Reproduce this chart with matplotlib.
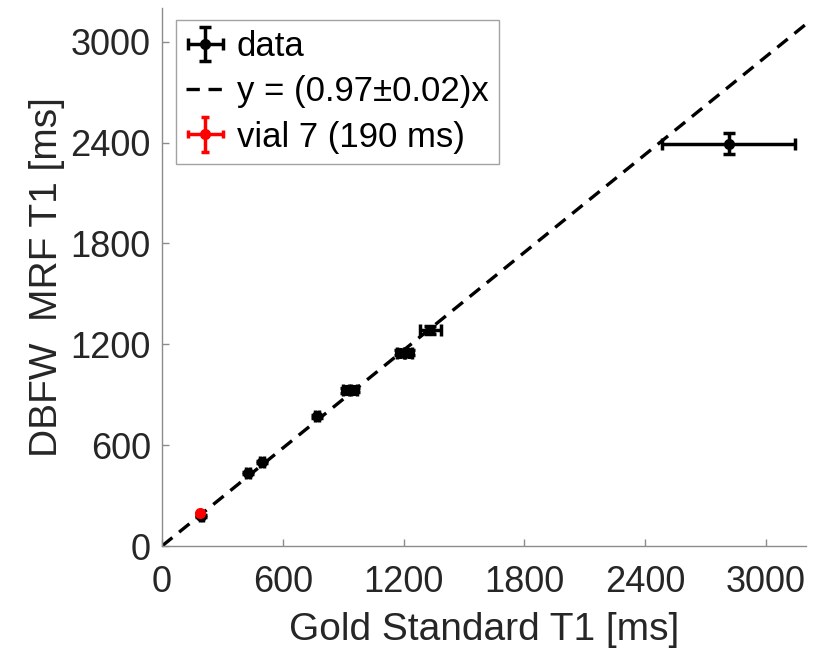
import matplotlib
matplotlib.use("Agg")
import matplotlib.pyplot as plt
import numpy as np

plt.rcParams["font.family"] = ["Liberation Sans", "DejaVu Sans"]

# phantom vials: gold standard T1 vs DBFW MRF T1 (ms)
gold_t1 = [196, 428, 498, 770, 915, 955, 1185, 1225, 1333, 2816]
mrf_t1 = [178, 434, 499, 772, 925, 930, 1150, 1150, 1283, 2394]
gold_err = [8, 10, 10, 12, 15, 15, 18, 18, 52, 330]
mrf_err = [8, 8, 8, 10, 12, 12, 15, 15, 25, 60]

# vial 7 highlighted
vial7_gold = [191]
vial7_mrf = [194]
vial7_gold_err = [6]
vial7_mrf_err = [6]

slope = 0.97
slope_err = 0.02
axis_max = 3200
ticks = [0, 600, 1200, 1800, 2400, 3000]

text_color = "#262626"
axis_color = "#8c8c8c"

fig = plt.figure(figsize=(8.18, 6.56), dpi=100)
ax = fig.add_axes([162 / 818, 1 - 546 / 656, 644 / 818, 538 / 656])

h_data = ax.errorbar(gold_t1, mrf_t1, xerr=gold_err, yerr=mrf_err, fmt="o",
                     color="black", markersize=7, elinewidth=2.5, capsize=4,
                     capthick=2.5, zorder=3)
fit_x = np.array([0, axis_max])
(h_fit,) = ax.plot(fit_x, slope * fit_x, "--", color="black", linewidth=2.4,
                   dashes=(4, 2.6), zorder=2)
h_vial = ax.errorbar(vial7_gold, vial7_mrf, xerr=vial7_gold_err,
                     yerr=vial7_mrf_err, fmt="o", color="red", markersize=7,
                     elinewidth=2.5, capsize=3, capthick=2.5, zorder=4)

ax.set_xlim(0, axis_max)
ax.set_ylim(0, axis_max)
ax.set_xticks(ticks)
ax.set_yticks(ticks)
ax.tick_params(direction="in", length=5, width=1, color=axis_color,
               labelsize=26, labelcolor=text_color)
ax.tick_params(axis="x", pad=14)
ax.tick_params(axis="y", pad=8)
for side in ("top", "right"):
    ax.spines[side].set_visible(False)
for side in ("left", "bottom"):
    ax.spines[side].set_color(axis_color)
    ax.spines[side].set_linewidth(1)

ax.set_xlabel("Gold Standard T1 [ms]", fontsize=28, color=text_color, labelpad=8)
ax.set_ylabel("DBFW  MRF T1 [ms]", fontsize=28, color=text_color, labelpad=4)

leg = ax.legend([h_data, h_fit, h_vial],
                ["data", "y = (0.97\u00b10.02)x", "vial 7 (190 ms)"],
                loc="upper left", bbox_to_anchor=(0.0217, 0.978), fontsize=25,
                frameon=True, fancybox=False, edgecolor=axis_color,
                handlelength=1.1, handletextpad=0.35, borderpad=0.3,
                labelspacing=0.35, borderaxespad=0)
leg.get_frame().set_linewidth(1)

fig.savefig("out.png", dpi=100)
